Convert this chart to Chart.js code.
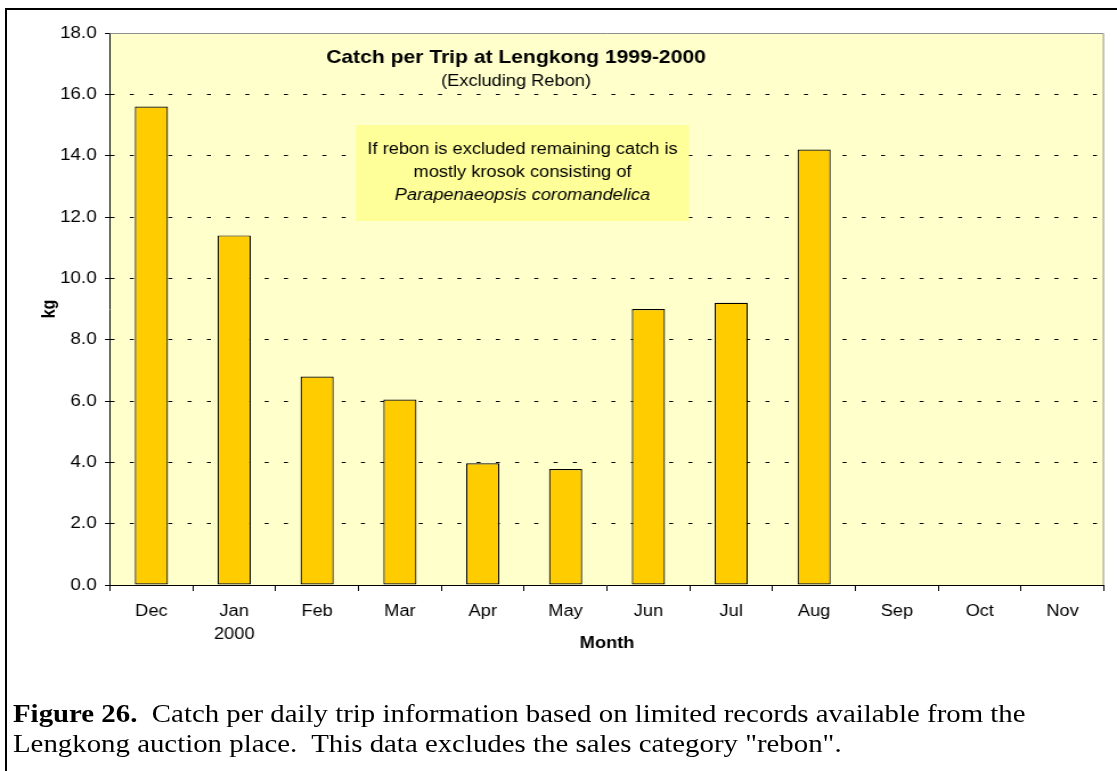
<!DOCTYPE html>
<html>
<head>
<meta charset="utf-8">
<script src="https://cdn.jsdelivr.net/npm/chart.js@4/dist/chart.umd.min.js"></script>
<style>
  html, body { margin: 0; padding: 0; background: #ffffff; width: 1117px; height: 771px; overflow: hidden; }
  #wrap { position: absolute; left: 0; top: 0; width: 1117px; height: 660px; }
  #c { display: block; width: 1117px !important; height: 660px !important; }
  #frame { position: absolute; left: 5px; top: 8px; width: 1200px; height: 900px; border: 2px solid #000; box-sizing: border-box; pointer-events: none; }
  #caption { position: absolute; left: 13px; top: 698px; font-family: "Liberation Serif", "Times New Roman", serif; font-size: 25.3px; line-height: 30px; color: #000; white-space: nowrap; transform: scaleX(1.14); transform-origin: 0 0; }
</style>
</head>
<body>
<div id="wrap"><canvas id="c" width="980" height="660"></canvas></div>
<div id="frame"></div>
<div id="caption"><b>Figure 26.</b>&nbsp; Catch per daily trip information based on limited records available from the<br>Lengkong auction place.&nbsp; This data excludes the sales category "rebon".</div>
<script>
const months = [['Dec'], ['Jan', '2000'], 'Feb', 'Mar', 'Apr', 'May', 'Jun', 'Jul', 'Aug', 'Sep', 'Oct', 'Nov'];
const catchPerTripKg = [15.6, 11.4, 6.8, 6.05, 3.97, 3.78, 9.0, 9.2, 14.2, null, null, null];
const yTicks = [0, 2, 4, 6, 8, 10, 12, 14, 16, 18];
const chartTitle = 'Catch per Trip at Lengkong 1999-2000';
const chartSubtitle = '(Excluding Rebon)';
const noteLines = ['If rebon is excluded remaining catch is', 'mostly krosok consisting of', 'Parapenaeopsis coromandelica'];

const SANS = '"Liberation Sans", Arial, sans-serif';
const SX = 1117 / 980; // horizontal stretch of the displayed canvas

const decorPlugin = {
  id: 'decor',
  beforeDraw(chart) {
    const { ctx, chartArea: a } = chart;
    ctx.save();
    ctx.fillStyle = '#FFFFCC';
    ctx.fillRect(a.left, a.top, a.right - a.left, a.bottom - a.top);
    ctx.restore();
  },
  beforeDatasetsDraw(chart) {
    const { ctx, chartArea: a } = chart;
    ctx.save();
    ctx.strokeStyle = '#909090';
    ctx.lineWidth = 1;
    ctx.beginPath();
    ctx.moveTo(a.left, a.top + 0.5);
    ctx.lineTo(a.right - 0.5, a.top + 0.5);
    ctx.lineTo(a.right - 0.5, a.bottom);
    ctx.stroke();
    // note box
    ctx.fillStyle = '#FFFF99';
    ctx.fillRect(356 / SX, 125, 333 / SX, 96);
    ctx.fillStyle = '#000';
    ctx.textAlign = 'center';
    ctx.textBaseline = 'middle';
    const nx = 522.5 / SX;
    ctx.font = '16px ' + SANS;
    ctx.fillText(noteLines[0], nx, 150);
    ctx.fillText(noteLines[1], nx, 173);
    ctx.font = 'italic 16px ' + SANS;
    ctx.fillText(noteLines[2], nx, 196);
    // titles
    const tx = 516 / SX;
    ctx.font = 'bold 18.5px ' + SANS;
    ctx.fillText(chartTitle, tx, 58);
    ctx.font = '16px ' + SANS;
    ctx.fillText(chartSubtitle, tx, 82);
    ctx.restore();
  }
};

new Chart(document.getElementById('c'), {
  type: 'bar',
  data: {
    labels: months,
    datasets: [{
      data: catchPerTripKg,
      backgroundColor: '#FFCC00',
      borderColor: '#000000',
      borderWidth: 1.2,
      borderSkipped: false,
      categoryPercentage: 1.0,
      barPercentage: 0.4
    }]
  },
  options: {
    responsive: false,
    animation: false,
    devicePixelRatio: 1,
    layout: { padding: { left: 0, top: 33, right: 980 - 1104 / (1117 / 980), bottom: 0 } },
    plugins: { legend: { display: false }, tooltip: { enabled: false }, title: { display: false } },
    scales: {
      x: {
        offset: true,
        afterFit(s) { s.height = 75; },
        grid: { display: true, drawOnChartArea: false, drawTicks: true, tickLength: 6, offset: true, color: '#000', lineWidth: 1 },
        border: { display: true, color: '#000', width: 1 },
        ticks: { color: '#000', font: { family: SANS, size: 16, lineHeight: 1.45 }, padding: 9, maxRotation: 0, autoSkip: false },
        title: { display: true, text: 'Month', color: '#000', font: { family: SANS, size: 16, weight: 'bold' }, padding: { top: 0, bottom: 7 } }
      },
      y: {
        min: 0,
        max: 18,
        afterFit(s) { s.width = 110 / (1117 / 980); },
        afterBuildTicks(s) { s.ticks = yTicks.map(v => ({ value: v })); },
        grid: {
          color: (c) => (c.tick && (c.tick.value === 18 || c.tick.value === 0)) ? 'rgba(0,0,0,0)' : '#000',
          tickColor: '#000',
          tickBorderDash: [],
          lineWidth: 1,
          tickLength: 4.4,
          drawTicks: true
        },
        border: { display: true, color: '#000', width: 1, dash: [3.5, 13.4] },
        ticks: { color: '#000', font: { family: SANS, size: 16.5 }, padding: 7.3, callback: (v) => Number(v).toFixed(1) },
        title: { display: true, text: 'kg', color: '#000', font: { family: SANS, size: 16, weight: 'bold' }, padding: { top: 34.3, bottom: 0 } }
      }
    }
  },
  plugins: [decorPlugin]
});
</script>
</body>
</html>
